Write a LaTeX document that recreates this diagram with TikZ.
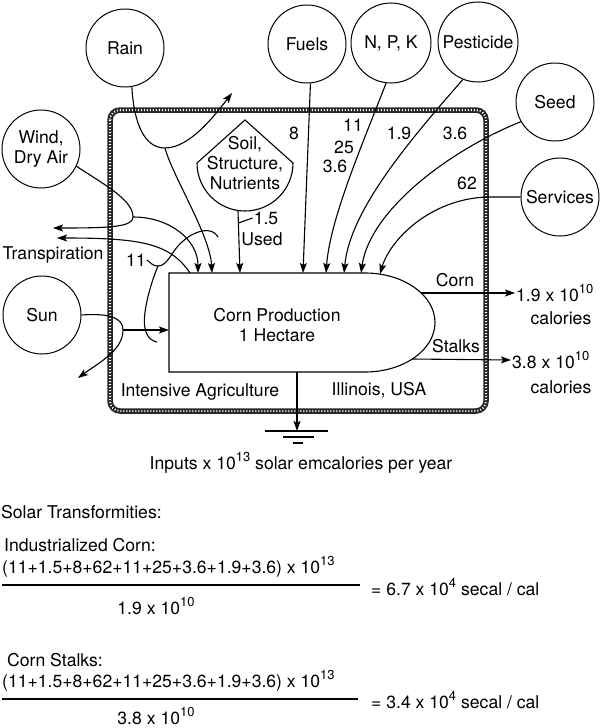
\documentclass[tikz,border=0pt]{standalone}
\usepackage{fontspec}
\setmainfont{TeX Gyre Heros}
\usetikzlibrary{arrows.meta, positioning}
\newcommand{\upx}[1]{\raisebox{0.45em}{\fontsize{13}{13}\selectfont #1}}

\begin{document}
\begin{tikzpicture}[
    x=1pt, y=-1pt,
    font=\fontsize{17.6}{20}\selectfont,
    every node/.style={inner sep=1pt},
    source/.style={draw, circle, line width=1pt, minimum size=78pt, inner sep=0pt, align=center},
    flow/.style={-{Stealth[length=10pt, width=7pt, inset=2pt]}, line width=1.1pt},
    pipe/.style={line width=1.1pt},
    fence/.style={rounded corners=10pt}
]
\useasboundingbox (0,0) rectangle (600,728);

\draw[fence, line width=5.5pt, black!85] (110,110) rectangle (486,411);
\draw[fence, line width=2pt, white, dash pattern=on 1pt off 2pt] (110,110) rectangle (486,411);

\node[source] (rain) at (125,48) {Rain};
\node[source] (wind) at (41,149) {Wind,\\Dry Air};
\node[source] (sun) at (42,315) {Sun};
\node[source] (fuels) at (307,44) {Fuels};
\node[source, minimum size=80pt] (npk) at (391,43) {N, P, K};
\node[source, minimum size=80pt] (pest) at (478,42) {Pesticide};
\node[source] (seed) at (555,102) {Seed};
\node[source] (serv) at (560,197) {Services};

\draw[pipe] (197,163) -- (245,120) -- (293,163) arc[start angle=0, end angle=180, radius=48] -- cycle;
\node[align=center] (soil) at (245,163) {Soil,\\Structure,\\Nutrients};

\draw[pipe] (169,273) -- (365,273) arc[start angle=-90, end angle=90, x radius=70, y radius=49.5] -- (169,372) -- cycle;
\node[align=center] (prod) at (277,325) {Corn Production\\1 Hectare};

\coordinate (rainsplit) at (165,148);
\coordinate (runoff) at (232,93);
\coordinate (windsplit) at (133,217);
\coordinate (dryout) at (53,228);
\coordinate (transp) at (57,238);
\coordinate (outtransp) at (190,273);
\coordinate (sunsplit) at (123,330);
\coordinate (sunback) at (78,378);
\coordinate (insun) at (169,330);
\coordinate (inwind) at (198,273);
\coordinate (inrain) at (212,273);
\coordinate (soilbot) at (238,211);
\coordinate (insoil) at (240,273);
\coordinate (infuel) at (303,273);
\coordinate (innpk) at (326,273);
\coordinate (inpest) at (344,273);
\coordinate (inseed) at (361,273);
\coordinate (inserv) at (380,274);
\coordinate (cornout) at (421,293);
\coordinate (stalkout) at (412,359);
\coordinate (sinktop) at (297,372);
\coordinate (sink) at (297,431);

\draw[flow] (rain.-80) .. controls (134,125) and (145,148) .. (rainsplit) .. controls (190,148) and (215,115) .. (runoff);
\draw[flow] (rainsplit) .. controls (172,175) and (210,235) .. (inrain);
\draw[flow] (wind.-26) .. controls (105,185) and (133,200) .. (windsplit) .. controls (133,227) and (110,228) .. (dryout);
\draw[flow] (windsplit) .. controls (170,217) and (198,240) .. (inwind);
\draw[flow] (outtransp) .. controls (170,243) and (140,238) .. (transp);
\draw[flow] (sun.east) .. controls (110,313) and (123,318) .. (sunsplit) .. controls (123,350) and (100,362) .. (sunback);
\draw[flow] (sunsplit) -- (insun);
\draw[flow] (soilbot) -- (insoil);
\draw[flow] (fuels.-85) -- (infuel);
\draw[flow] (npk.-97) .. controls (360,150) and (330,220) .. (innpk);
\draw[flow] (pest.-112) .. controls (410,140) and (350,210) .. (inpest);
\draw[flow] (seed.-150) .. controls (450,150) and (370,210) .. (inseed);
\draw[flow] (serv.west) -- (487,197) .. controls (430,199) and (390,240) .. (inserv);
\draw[flow] (sinktop) -- (sink);
\draw[pipe] (265,431) -- (328,431) (283,437) -- (314,437) (293,443) -- (303,443);

\node (transplbl) at (53,255) {Transpiration};
\node (vsun) at (136,260) {11};
\draw[pipe] (vsun.east) .. controls (150,262) and (152,266) .. (158,266) .. controls (168,266) and (172,250) .. (182,242) .. controls (195,230) and (212,226) .. (218,237);
\draw[pipe] (158,266) .. controls (150,285) and (142,315) .. (145,328) .. controls (147,338) and (152,341) .. (157,342);

\node (vsoil) at (266,218) {1.5};
\node (used) at (262,239) {Used};
\draw[pipe] (238.5,223) -- (vsoil.west);
\node (vfuel) at (294,133) {8};
\node (vn) at (353,125) {11};
\node (vp) at (344,147) {25};
\node (vk) at (335,166) {3.6};
\node (vpest) at (399,133) {1.9};
\node (vseed) at (455,133) {3.6};
\node (vserv) at (467,183) {62};

\node (cornlbl) at (455,280) {Corn};
\node[anchor=west] (cornval) at (515,293) {1.9 x 10\upx{10}};
\node (cornunit) at (561,318) {calories};
\draw[flow] (cornout) -- (cornval.west);
\node (stalklbl) at (456,346) {Stalks};
\node[anchor=west] (stalkval) at (511,360) {3.8 x 10\upx{10}};
\node (stalkunit) at (561,387) {calories};
\draw[flow] (stalkout) -- (stalkval.west);

\node (intens) at (200,392) {Intensive Agriculture};
\node (illin) at (379,390) {Illinois, USA};

\node (inputs) at (301,463) {Inputs x 10\upx{13} solar emcalories per year};
\node[anchor=west] (transf) at (0,512) {Solar Transformities:};
\node[anchor=west] (indcorn) at (3,545) {Industrialized Corn:};
\node[anchor=west] (num1) at (1,567) {(11+1.5+8+62+11+25+3.6+1.9+3.6) x 10\upx{13}};
\draw[pipe] (2,585) -- (360,585);
\node (den1) at (156,606) {1.9 x 10\upx{10}};
\node[anchor=west] (res1) at (370,587) {= 6.7 x 10\upx{4} secal / cal};
\node[anchor=west] (stalks) at (6,660) {Corn Stalks:};
\node[anchor=west] (num2) at (1,681) {(11+1.5+8+62+11+25+3.6+1.9+3.6) x 10\upx{13}};
\draw[pipe] (2,699) -- (358,699);
\node (den2) at (156,716) {3.8 x 10\upx{10}};
\node[anchor=west] (res2) at (370,700) {= 3.4 x 10\upx{4} secal / cal};
\end{tikzpicture}
\end{document}
